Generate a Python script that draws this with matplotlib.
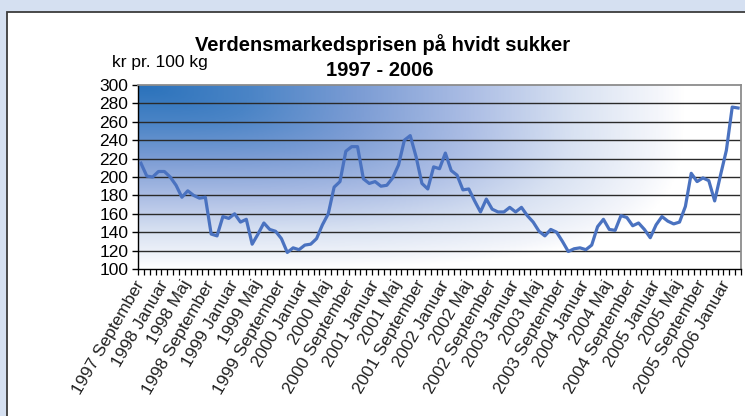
import numpy as np
import matplotlib
matplotlib.use("Agg")
import matplotlib.pyplot as plt
from matplotlib.colors import LinearSegmentedColormap
from matplotlib.patches import Rectangle

plt.rcParams['font.family'] = ['Liberation Sans', 'DejaVu Sans']

# ---- data -------------------------------------------------------------
title_line1 = "Verdensmarkedsprisen på hvidt sukker"
title_line2 = "1997 - 2006"
y_unit = "kr pr. 100 kg"

# monthly prices, 1997 September .. 2006 March
prices = [
    215, 201, 200, 206, 206, 200, 191, 178, 185, 180, 177, 178,   # 97-09 .. 98-08
    138, 136, 157, 155, 160, 151, 154, 127, 138, 150, 143, 141,   # 98-09 .. 99-08
    133, 118, 123, 121, 126, 127, 133, 148, 160, 189, 195, 228,   # 99-09 .. 00-08
    233, 233, 198, 193, 195, 190, 191, 199, 213, 240, 245, 222,   # 00-09 .. 01-08
    193, 187, 211, 209, 226, 207, 202, 186, 187, 174, 162, 176,   # 01-09 .. 02-08
    165, 162, 162, 167, 162, 167, 158, 151, 141, 136, 143, 140,   # 02-09 .. 03-08
    130, 119, 122, 123, 121, 126, 146, 154, 143, 142, 158, 156,   # 03-09 .. 04-08
    147, 150, 143, 134, 148, 157, 152, 149, 151, 168, 204, 195,   # 04-09 .. 05-08
    199, 196, 174, 202, 229, 276, 275,                            # 05-09 .. 06-03
]
tick_labels = [
    "1997 September", "1998 Januar", "1998 Maj", "1998 September",
    "1999 Januar", "1999 Maj", "1999 September", "2000 Januar",
    "2000 Maj", "2000 September", "2001 Januar", "2001 Maj",
    "2001 September", "2002 Januar", "2002 Maj", "2002 September",
    "2003 Januar", "2003 Maj", "2003 September", "2004 Januar",
    "2004 Maj", "2004 September", "2005 Januar", "2005 Maj",
    "2005 September", "2006 Januar",
]
y_ticks = [100, 120, 140, 160, 180, 200, 220, 240, 260, 280, 300]

# ---- figure -----------------------------------------------------------
W, H = 745, 416
fig = plt.figure(figsize=(W / 100, H / 100), dpi=100, facecolor='#d5e0f1')

# white panel with dark border (drawn in a background axes)
bg = fig.add_axes([0, 0, 1, 1], zorder=-10)
bg.set_axis_off()
bg.set_xlim(0, 1)
bg.set_ylim(0, 1)
bg.add_patch(Rectangle((7 / W, -0.2), 1.2, 1.2 - 12 / H,
                       facecolor='white', edgecolor='#3c3c3c', linewidth=1.3))

left, right, top, bottom = 138, 741, 85, 269
ax = fig.add_axes([left / W, 1 - bottom / H, (right - left) / W, (bottom - top) / H],
                  zorder=5)

n = len(prices)
x = np.arange(n)

# gradient background (dark blue top-left fading to white)
cmap = LinearSegmentedColormap.from_list('grad', [
    (0.0, '#2a72bb'), (0.2, '#4a84c6'), (0.4, '#7b9cd4'),
    (0.6, '#aabce4'), (0.8, '#d9e2f2'), (0.95, '#f4f6fb'), (1.0, '#ffffff')])
gx = np.linspace(0, 1, 400)
gy = np.linspace(0, 1, 200)
U, V = np.meshgrid(gx, gy)
T = np.clip(((1.1 * U) ** 4 + (1.0 * V) ** 4) ** 0.25, 0, 1)
ax.imshow(T, cmap=cmap, vmin=0, vmax=1, extent=[-0.5, n - 0.5, 100, 300],
          origin='upper', aspect='auto', zorder=0, interpolation='bilinear')

for yv in y_ticks[1:-1]:
    ax.axhline(yv, color='#2a2a2a', lw=1.0, zorder=1)

ax.plot(x, prices, color='#4a72c0', lw=2.3, zorder=3, solid_joinstyle='round')

ax.set_xlim(-0.5, n - 0.5)
ax.set_ylim(100, 300)

ax.set_yticks(y_ticks)
ax.set_yticklabels([str(v) for v in y_ticks], fontsize=12.5)
ax.tick_params(axis='y', direction='out', length=4, width=1, pad=3, colors='black')

label_pos = x[::4][:len(tick_labels)]
ax.set_xticks(label_pos)
ax.set_xticklabels(tick_labels, rotation=60, ha='right', va='center',
                   rotation_mode='anchor', fontsize=12.5, color='#222222')
ax.tick_params(axis='x', which='major', length=0, pad=9)
ax.set_xticks(np.arange(-0.5, n, 1.0), minor=True)
ax.tick_params(axis='x', which='minor', direction='out', length=4, width=0.9)

for s in ['top', 'right']:
    ax.spines[s].set_color('#8c8c8c')
    ax.spines[s].set_linewidth(1.3)
for s in ['left', 'bottom']:
    ax.spines[s].set_color('black')
    ax.spines[s].set_linewidth(1.0)

fig.text(383 / W, 1 - 45 / H, title_line1, ha='center', va='center',
         fontsize=14.5, fontweight='bold')
fig.text(380 / W, 1 - 71 / H, title_line2, ha='center', va='center',
         fontsize=14.5, fontweight='bold')
fig.text(112 / W, 1 - 63 / H, y_unit, ha='left', va='center', fontsize=12.5)

fig.savefig('out.png', dpi=100, facecolor=fig.get_facecolor())
